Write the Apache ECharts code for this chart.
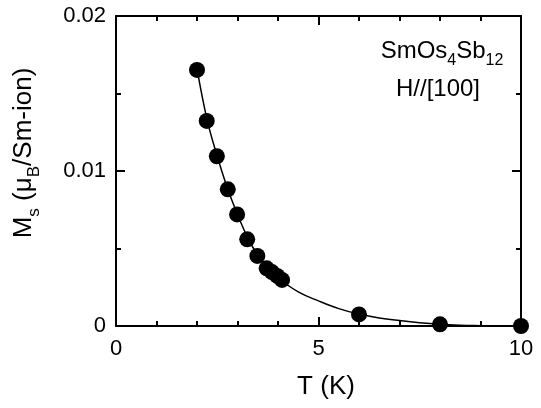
<!DOCTYPE html>
<html><head><meta charset="utf-8">
<script src="https://cdn.jsdelivr.net/npm/echarts@6/dist/echarts.min.js"></script>
<style>html,body{margin:0;padding:0;background:#fff}#c{width:541px;height:408px}</style>
</head><body><div id="c"></div>
<script>
// measured points
var tempK = [2.0, 2.24, 2.49, 2.76, 2.99, 3.24, 3.49, 3.72, 3.85, 3.98, 4.1, 6.0, 8.0, 10.0];
var msVals = [0.01652, 0.01323, 0.01095, 0.00882, 0.00720, 0.00559, 0.00452, 0.00372, 0.00348, 0.00323, 0.00297, 0.00075, 0.00011, 0.0];
// fitted curve
var fitT = [2.0, 2.25, 2.5, 2.75, 3.0, 3.25, 3.5, 3.75, 4.0, 4.5, 5.0, 5.5, 6.0, 6.5, 7.0, 7.5, 8.0, 8.5, 9.0, 9.25];
var fitM = [0.0166, 0.0133, 0.01095, 0.0089, 0.0072, 0.0057, 0.00455, 0.0037, 0.0031, 0.0022, 0.00162, 0.00112, 0.00077, 0.00052, 0.00035, 0.00021, 0.00011, 0.00005, 0.00002, 0.00001];
var xTicks = [0, 5, 10];
var yTicks = [0, 0.01, 0.02];

var ff = '"Liberation Sans", Arial, Helvetica, sans-serif';
var chart = echarts.init(document.getElementById('c'));
function pairs(a, b) { return a.map(function (v, i) { return [v, b[i]]; }); }
function yLab(v) { return v === 0 ? '0' : v.toFixed(2); }
var axLine = { show: true, onZero: false, lineStyle: { color: '#000', width: 2 } };
function xAx(pos, show) {
  return {
    type: 'value', position: pos, min: xTicks[0], max: xTicks[2], interval: 5,
    axisLine: axLine,
    axisTick: { show: true, inside: true, length: 9, lineStyle: { color: '#000', width: 2 } },
    minorTick: { show: true, splitNumber: 5, length: 5, lineStyle: { color: '#000', width: 2 } },
    axisLabel: { show: show, color: '#000', fontSize: 22, fontFamily: ff, margin: 12 },
    splitLine: { show: false }, minorSplitLine: { show: false }
  };
}
function yAx(pos, show) {
  return {
    type: 'value', position: pos, min: yTicks[0], max: yTicks[2], interval: 0.01,
    axisLine: axLine,
    axisTick: { show: true, inside: true, length: 9, lineStyle: { color: '#000', width: 2 } },
    minorTick: { show: true, splitNumber: 2, length: 5, lineStyle: { color: '#000', width: 2 } },
    axisLabel: { show: show, color: '#000', fontSize: 22, fontFamily: ff, margin: 10, formatter: yLab },
    splitLine: { show: false }, minorSplitLine: { show: false }
  };
}
chart.setOption({
  animation: false,
  backgroundColor: '#fff',
  grid: { left: 116, right: 20, top: 16, bottom: 82 },
  xAxis: [xAx('bottom', true), xAx('top', false)],
  yAxis: [yAx('left', true), yAx('right', false)],
  series: [
    { type: 'line', data: pairs(fitT, fitM), smooth: 0.4, showSymbol: false, symbol: 'none',
      lineStyle: { color: '#000', width: 1.5 }, z: 2 },
    { type: 'scatter', data: pairs(tempK, msVals), symbol: 'circle', symbolSize: 16,
      itemStyle: { color: '#000', opacity: 1 }, z: 3 }
  ],
  graphic: [
    { type: 'text', x: 326, y: 387, style: { text: 'T (K)', font: '26px ' + ff, fill: '#000', align: 'center', verticalAlign: 'middle' } },
    { type: 'text', x: 34, y: 153, rotation: Math.PI / 2,
      style: { text: '{a|M}{s|s}{a| (μ}{s|B}{a|/Sm-ion)}', fill: '#000', align: 'center', verticalAlign: 'middle',
        rich: { a: { fontSize: 26, fontFamily: ff, lineHeight: 28, verticalAlign: 'top' },
                s: { fontSize: 17, fontFamily: ff, lineHeight: 46, verticalAlign: 'middle' } } } },
    { type: 'text', x: 442, y: 61,
      style: { text: '{a|SmOs}{s|4}{a|Sb}{s|12}', fill: '#000', align: 'center', verticalAlign: 'middle',
        rich: { a: { fontSize: 24, fontFamily: ff, lineHeight: 26, verticalAlign: 'top' },
                s: { fontSize: 16, fontFamily: ff, lineHeight: 44, verticalAlign: 'middle' } } } },
    { type: 'text', x: 438, y: 89, style: { text: 'H//[100]', font: '24px ' + ff, fill: '#000', align: 'center', verticalAlign: 'middle' } }
  ]
});
</script></body></html>
